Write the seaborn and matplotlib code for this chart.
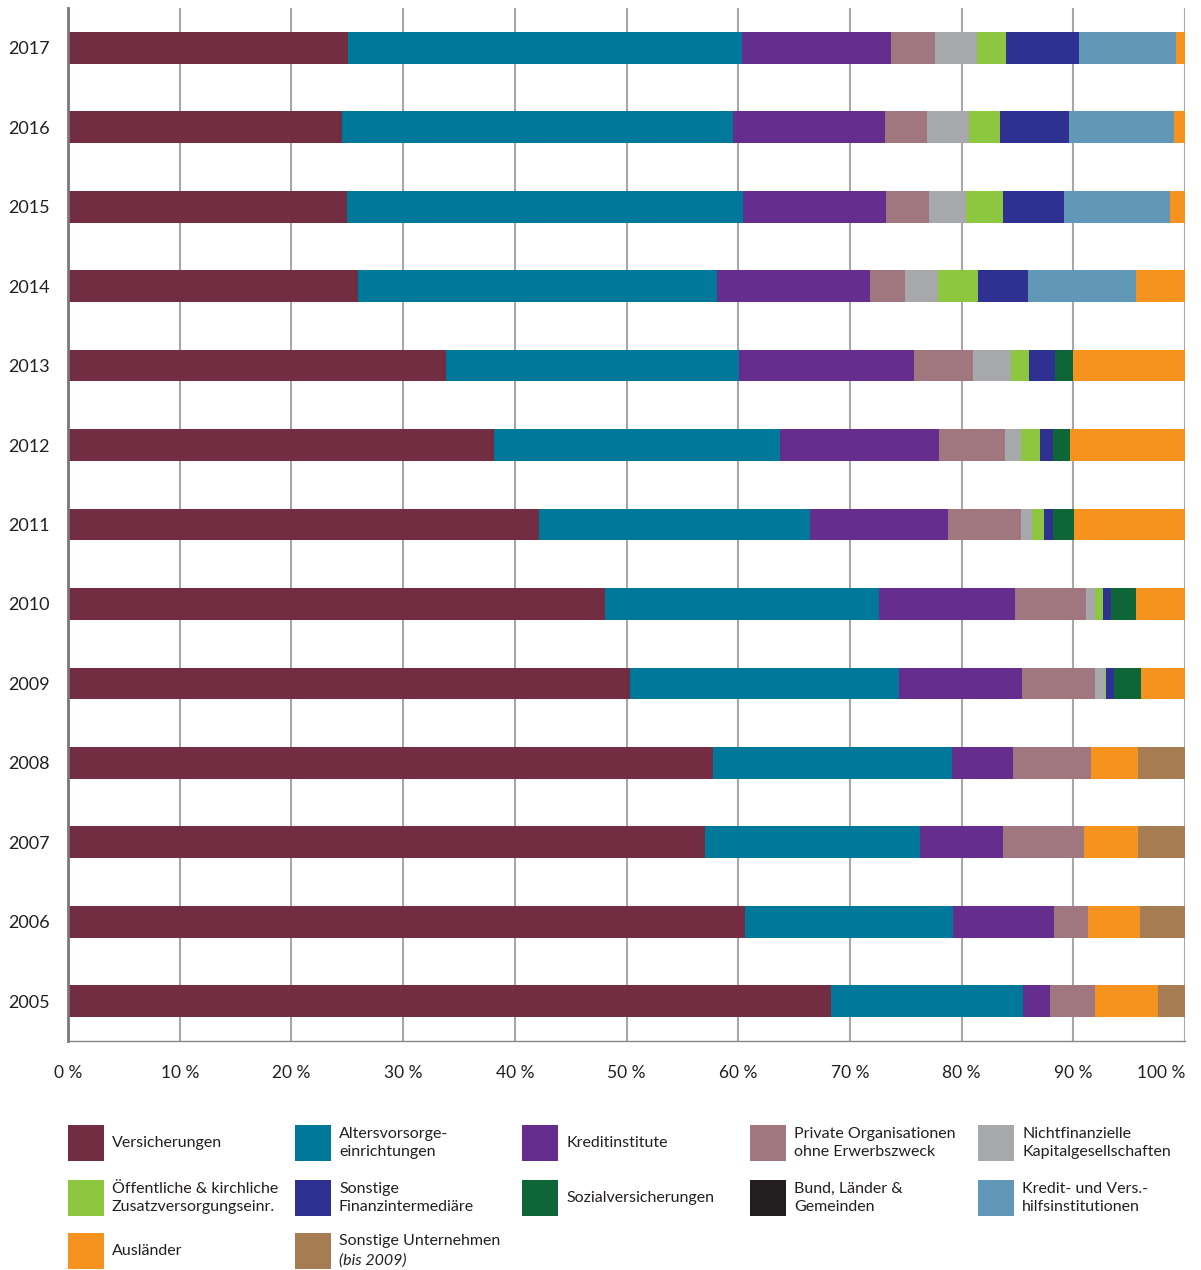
import pandas as pd
import matplotlib
matplotlib.use("Agg")
import matplotlib.pyplot as plt
import seaborn as sns
from matplotlib.patches import Rectangle

years = ["2017", "2016", "2015", "2014", "2013", "2012", "2011",
         "2010", "2009", "2008", "2007", "2006", "2005"]

categories = [
    "Versicherungen", "Altersvorsorge-\neinrichtungen", "Kreditinstitute",
    "Private Organisationen\nohne Erwerbszweck", "Nichtfinanzielle\nKapitalgesellschaften",
    "Öffentliche & kirchliche\nZusatzversorgungseinr.", "Sonstige\nFinanzintermediäre",
    "Sozialversicherungen", "Bund, Länder &\nGemeinden", "Kredit- und Vers.-\nhilfsinstitutionen",
    "Ausländer", "Sonstige Unternehmen",
]
colors = ["#722d43", "#00789a", "#652d8e", "#a0767f", "#a7a8ab", "#8dc63f",
          "#2e3192", "#0e6638", "#231f20", "#6198b8", "#f6921e", "#a67c52"]

# shares in %, order 2017 -> 2005
versicherungen = [25.1, 24.5, 25.0, 26.0, 33.8, 38.1, 42.2, 48.1, 50.3, 57.7, 57.0, 60.6, 68.3]
altersvorsorge = [35.2, 35.0, 35.4, 32.1, 26.3, 25.6, 24.2, 24.5, 24.1, 21.4, 19.3, 18.6, 17.2]
kreditinstitute = [13.4, 13.6, 12.8, 13.7, 15.6, 14.3, 12.4, 12.2, 11.0, 5.5, 7.4, 9.1, 2.4]
private_org = [3.9, 3.8, 3.9, 3.1, 5.3, 5.9, 6.5, 6.3, 6.5, 7.0, 7.3, 3.0, 4.0]
nichtfinanzielle = [3.8, 3.8, 3.3, 3.0, 3.4, 1.4, 1.0, 0.8, 0.9, 0, 0, 0, 0]
zusatzversorgung = [2.6, 2.7, 3.3, 3.6, 1.6, 1.7, 1.1, 0.8, 0.1, 0, 0, 0, 0]
sonstige_fin = [6.5, 6.2, 5.5, 4.4, 2.4, 1.2, 0.8, 0.7, 0.7, 0, 0, 0, 0]
sozialvers = [0, 0, 0, 0, 1.6, 1.5, 1.9, 2.2, 2.5, 0, 0, 0, 0]
bund_laender = [0, 0, 0, 0, 0, 0, 0, 0, 0, 0, 0, 0, 0]
hilfsinstitutionen = [8.7, 9.4, 9.5, 9.7, 0, 0, 0, 0, 0, 0, 0, 0, 0]
auslaender = [0.8, 1.0, 1.3, 4.4, 10.0, 10.3, 9.9, 4.4, 3.9, 4.2, 4.8, 4.7, 5.7]
sonstige_unt = [0, 0, 0, 0, 0, 0, 0, 0, 0, 4.2, 4.2, 4.0, 2.4]

series = [versicherungen, altersvorsorge, kreditinstitute, private_org, nichtfinanzielle,
          zusatzversorgung, sonstige_fin, sozialvers, bund_laender, hilfsinstitutionen,
          auslaender, sonstige_unt]

sns.set_theme(style="white")
plt.rcParams["font.family"] = ["Lato", "DejaVu Sans"]

# long table with running totals for stacking
rows = []
for cat, vals in zip(categories, series):
    for y, v in zip(years, vals):
        rows.append({"year": y, "category": cat, "value": v})
df = pd.DataFrame(rows)
df["cum"] = df.groupby("year")["value"].cumsum()

W, H = 1201, 1270
fig = plt.figure(figsize=(W / 100, H / 100), dpi=100)
ax = fig.add_axes([68 / W, 1 - 1041 / H, (1185 - 68) / W, (1041 - 8) / H])

# draw the largest running total first, overlay the smaller ones
for cat, col in reversed(list(zip(categories, colors))):
    sub = df[df["category"] == cat]
    sns.barplot(data=sub, x="cum", y="year", order=years, color=col,
                saturation=1, width=0.4, linewidth=0, errorbar=None, ax=ax)

ax.set_xlim(0, 100)
ax.set_xticks(range(0, 101, 10))
ax.set_xticklabels([f"{t} %" for t in range(0, 101, 10)])
ax.get_xticklabels()[-1].set_horizontalalignment("right")
ax.set_xlabel("")
ax.set_ylabel("")
ax.xaxis.grid(True, color="#aaa6a8", linewidth=1.5)
ax.yaxis.grid(False)
ax.set_axisbelow(True)
ax.tick_params(axis="x", length=0, pad=17, labelsize=12.5, labelcolor="#231f20")
ax.tick_params(axis="y", length=0, pad=13, labelsize=13, labelcolor="#231f20")
for s in ["top", "right"]:
    ax.spines[s].set_visible(False)
ax.spines["left"].set_color("#7d7577")
ax.spines["left"].set_linewidth(2)
ax.spines["bottom"].set_color("#8a8486")
ax.spines["bottom"].set_linewidth(1)

# legend: 5 columns of swatches with text
col_x = [68, 295, 522, 750, 978]
row_y = [1125, 1180, 1233]
size = 36
for i, (cat, col) in enumerate(zip(categories, colors)):
    r, c = divmod(i, 5)
    x0, y0 = col_x[c], row_y[r]
    fig.patches.append(Rectangle((x0 / W, 1 - (y0 + size) / H), size / W, size / H,
                                 transform=fig.transFigure, facecolor=col, edgecolor="none"))
    yc = 1 - (y0 + size / 2) / H
    if cat == "Sonstige Unternehmen":
        fig.text((x0 + 44) / W, yc + 9.5 / H, cat, fontsize=11.5, color="#231f20", va="center")
        fig.text((x0 + 44) / W, yc - 9.5 / H, "(bis 2009)", fontsize=11.5, color="#231f20",
                 va="center", style="italic")
    else:
        fig.text((x0 + 44) / W, yc, cat, fontsize=11.5, color="#231f20", va="center",
                 linespacing=1.4)

fig.savefig("out.png", dpi=100)
